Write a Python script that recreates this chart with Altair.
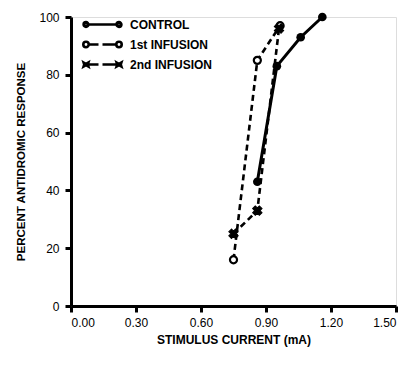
import altair as alt
import pandas as pd

series_names = ["CONTROL", "1st INFUSION", "2nd INFUSION"]

control_x = [0.86, 0.95, 1.06, 1.16]
control_y = [43, 83, 93, 100]
inf1_x = [0.75, 0.86, 0.965]
inf1_y = [16, 85, 97]
inf2_x = [0.75, 0.86, 0.96]
inf2_y = [25, 33, 96]

x_ticks = [0.0, 0.3, 0.6, 0.9, 1.2, 1.5]
y_ticks = [0, 20, 40, 60, 80, 100]

rows = []
for name, xs, ys in [(series_names[0], control_x, control_y),
                     (series_names[1], inf1_x, inf1_y),
                     (series_names[2], inf2_x, inf2_y)]:
    for i, (a, b) in enumerate(zip(xs, ys)):
        rows.append({"series": name, "x": a, "y": b, "order": i})
df = pd.DataFrame(rows)

FONT = "Liberation Sans"

xenc = alt.X("x:Q", scale=alt.Scale(domain=[0, 1.5], nice=False, zero=False),
             axis=alt.Axis(values=x_ticks, format=".2f", title="STIMULUS CURRENT (mA)",
                           grid=False, domainWidth=3, domainColor="black", tickWidth=3,
                           tickColor="black", tickSize=6, labelFontSize=12, labelPadding=5,
                           labelFont=FONT, labelColor="black", titleFont=FONT,
                           titleFontSize=12, titleFontWeight="bold", titleColor="black",
                           titlePadding=6))
yenc = alt.Y("y:Q", scale=alt.Scale(domain=[0, 100], nice=False),
             axis=alt.Axis(values=y_ticks, title="PERCENT ANTIDROMIC RESPONSE",
                           grid=False, domainWidth=3, domainColor="black", tickWidth=3,
                           tickColor="black", tickSize=6, labelFontSize=12, labelPadding=6,
                           labelFont=FONT, labelColor="black", titleFont=FONT,
                           titleFontSize=11.5, titleFontWeight="bold", titleColor="black",
                           titlePadding=12))

base = alt.Chart(df)

def sel(i):
    return base.transform_filter(alt.datum.series == series_names[i])

l_control = sel(0).mark_line(color="black", strokeWidth=3).encode(x=xenc, y=yenc, order="order:Q")
l_inf1 = sel(1).mark_line(color="black", strokeWidth=2.6, strokeDash=[6, 4]).encode(
    x="x:Q", y="y:Q", order="order:Q")
l_inf2 = sel(2).mark_line(color="black", strokeWidth=2.6, strokeDash=[6, 4]).encode(
    x="x:Q", y="y:Q", order="order:Q")

p_control = sel(0).mark_point(
    shape="circle", filled=True, fill="black", color="black", size=75, opacity=1
).encode(x="x:Q", y="y:Q")
p_inf1 = sel(1).mark_point(
    shape="circle", filled=False, fill="white", stroke="black", strokeWidth=2.2, size=50, opacity=1
).encode(x="x:Q", y="y:Q")
p_inf2 = sel(2).mark_point(
    shape="cross", angle=45, filled=True, fill="black", stroke="black", strokeWidth=1, size=90, opacity=1
).encode(x="x:Q", y="y:Q")

# legend symbols (line + markers) as custom paths (stroke only).
# symbolSize 400 -> 1 path unit = 10 px; coordinates below are in px / 10.
U = 10.0

def circ(cx, r):
    cx, r = cx / U, r / U
    return f"M{cx - r:.3f},0a{r:.3f},{r:.3f} 0 1,0 {2 * r:.3f},0a{r:.3f},{r:.3f} 0 1,0 {-2 * r:.3f},0"

def seg(a, b):
    return f"M{a / U:.3f},0L{b / U:.3f},0"

def bt(cx):
    p = [(-2.4, -2.0), (0, -0.6), (2.4, -2.0), (1.8, 0), (2.4, 2.0), (0, 0.6), (-2.4, 2.0), (-1.8, 0)]
    s = "M" + "L".join(f"{(cx + dx) / U:.3f},{dy / U:.3f}" for dx, dy in p) + "Z"
    return s

LC, RC = -5.5, 27.5
leg_control = (circ(LC, 2.4) + circ(LC, 0.9) + seg(LC + 2.5, RC - 2.5)
               + circ(RC, 2.4) + circ(RC, 0.9))
leg_inf1 = circ(LC, 2.7) + seg(LC + 3, 7) + seg(11, RC - 3) + circ(RC, 2.7)
leg_inf2 = bt(LC) + seg(LC + 2, 7) + seg(11, RC - 2) + bt(RC)

legend_layer = base.mark_point(opacity=0, filled=False).encode(
    x="x:Q", y="y:Q",
    shape=alt.Shape("series:N",
                    scale=alt.Scale(domain=series_names,
                                    range=[leg_control, leg_inf1, leg_inf2]),
                    legend=alt.Legend(title=None, orient="none", legendX=9, legendY=-4,
                                      symbolSize=400, symbolStrokeWidth=2.6,
                                      symbolStrokeColor="black", labelFont=FONT,
                                      labelFontSize=12, labelFontWeight="bold",
                                      labelColor="black", rowPadding=0, labelOffset=27,
                                      symbolOpacity=1)),
)

chart = alt.layer(l_control, l_inf1, l_inf2, p_control, p_inf1, p_inf2, legend_layer).properties(
    width=325, height=289,
    autosize=alt.AutoSizeParams(type="none"),
    padding={"left": 71, "top": 17, "right": 11, "bottom": 60},
).configure_view(stroke=None).configure(background="white")

chart.save("out.html", embed_options={"renderer": "svg", "actions": False})
